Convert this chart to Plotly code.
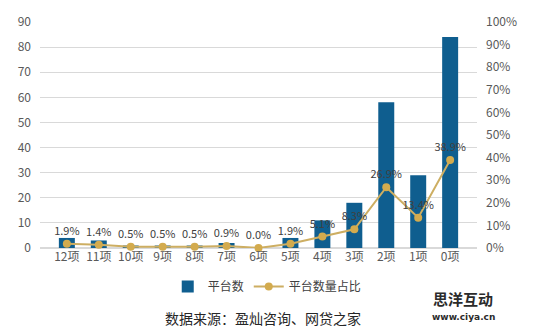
import plotly.graph_objects as go

categories = ["12项", "11项", "10项", "9项", "8项", "7项", "6项", "5项", "4项", "3项", "2项", "1项", "0项"]
platform_counts = [4, 3, 1, 1, 1, 2, 0, 4, 11, 18, 58, 29, 84]
share_pct = [1.9, 1.4, 0.5, 0.5, 0.5, 0.9, 0.0, 1.9, 5.1, 8.3, 26.9, 13.4, 38.9]
share_labels = [f"{v:.1f}%" for v in share_pct]

FONT = "Noto Sans CJK SC, Noto Sans, sans-serif"
TXT = "#595959"

fig = go.Figure()
fig.add_trace(go.Bar(
    x=categories, y=platform_counts, name="平台数",
    marker=dict(color="#0F5E8F", line=dict(width=0)),
    yaxis="y",
))
fig.add_trace(go.Scatter(
    x=categories, y=share_pct, name="平台数量占比",
    mode="lines+markers+text",
    line=dict(color="#CDAE62", width=2),
    marker=dict(color="#D3AB4E", size=8),
    text=share_labels, textposition="top center",
    textfont=dict(family=FONT, size=11, color="#404040"),
    yaxis="y2", cliponaxis=False,
))

fig.update_layout(
    width=535, height=331,
    margin=dict(l=40, r=58, t=16, b=83),
    paper_bgcolor="white", plot_bgcolor="white",
    font=dict(family=FONT, size=11, color=TXT),
    bargap=0.5,
    showlegend=True,
    legend=dict(orientation="h", x=0.52, xanchor="center", y=-0.17, yanchor="middle",
                font=dict(family=FONT, size=12, color="#404040"),
                itemwidth=30, tracegroupgap=0),
    xaxis=dict(showgrid=False, showline=False, ticks="", zeroline=False,
               tickfont=dict(family=FONT, size=12, color=TXT)),
    yaxis=dict(range=[0, 90], dtick=10, showgrid=True, gridcolor="#D9D9D9", gridwidth=1,
               zeroline=True, zerolinecolor="#D9D9D9", showline=False, ticks="",
               tickfont=dict(family=FONT, size=12, color=TXT), ticklabelstandoff=8),
    yaxis2=dict(range=[0, 100], dtick=10, overlaying="y", side="right", showgrid=False,
                zeroline=False, showline=False, ticks="", ticksuffix="%",
                tickfont=dict(family=FONT, size=12, color=TXT), ticklabelstandoff=8),
    annotations=[
        dict(text="数据来源：盈灿咨询、网贷之家", x=0.51, y=-0.31, xref="paper", yref="paper",
             xanchor="center", yanchor="middle", showarrow=False,
             font=dict(family=FONT, size=14, color="#262626")),
        dict(text="<b>思洋互动</b>", x=0.968, y=-0.225, xref="paper", yref="paper",
             xanchor="center", yanchor="middle", showarrow=False,
             font=dict(family=FONT, size=15, color="#2B2B2B")),
        dict(text="<b>www.ciya.cn</b>", x=0.968, y=-0.305, xref="paper", yref="paper",
             xanchor="center", yanchor="middle", showarrow=False,
             font=dict(family="DejaVu Sans, sans-serif", size=9, color="#2B2B2B")),
    ],
)

fig.write_html("out.html")
